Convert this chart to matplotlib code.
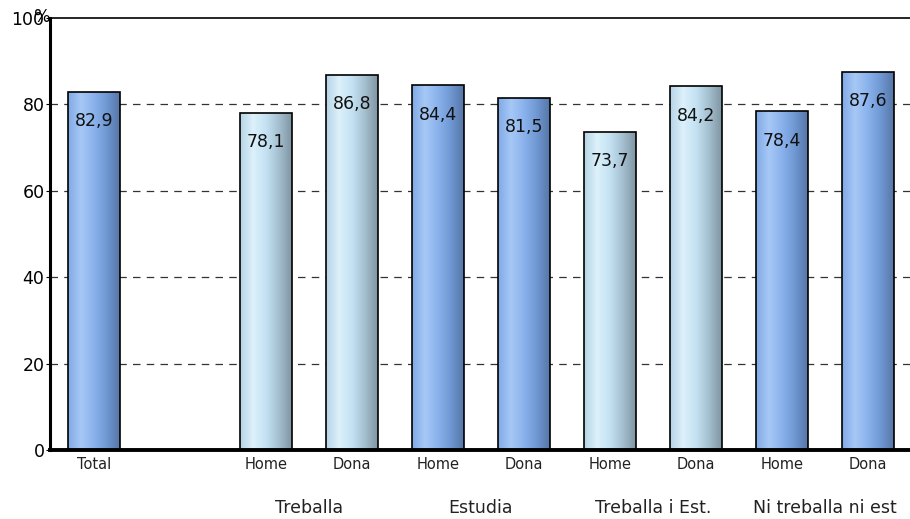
import matplotlib.pyplot as plt
import numpy as np
from matplotlib.colors import LinearSegmentedColormap

# slot 1 is left empty in the original chart
positions = [0, 2, 3, 4, 5, 6, 7, 8, 9]
values = [82.9, 78.1, 86.8, 84.4, 81.5, 73.7, 84.2, 78.4, 87.6]
tick_labels = ['Total', 'Home', 'Dona', 'Home', 'Dona', 'Home', 'Dona', 'Home', 'Dona']
styles = ['blue', 'light', 'light', 'blue', 'blue', 'light', 'light', 'blue', 'blue']
groups = ['Treballa', 'Estudia', 'Treballa i Est.', 'Ni treballa ni est']
group_centers = [2.5, 4.5, 6.5, 8.5]

cmaps = {
    'blue': LinearSegmentedColormap.from_list('b', ['#7fa9e6', '#a6c8f6', '#8ab2ec', '#6f97d2', '#5676a6']),
    'light': LinearSegmentedColormap.from_list('l', ['#b6d3e4', '#dcf1fb', '#c4e2f3', '#a4bfcf', '#7f95a2']),
}


def gradient_bar(ax, x, h, width, style):
    bar = ax.bar(x, h, width=width, color='none', edgecolor='black', linewidth=1.2, zorder=3)[0]
    grad = np.linspace(0, 1, 256).reshape(1, -1)
    im = ax.imshow(grad, cmap=cmaps[style], aspect='auto',
                   extent=(x - width / 2, x + width / 2, 0, h), zorder=2)
    im.set_clip_path(bar)


fig = plt.figure(figsize=(9.1, 5.19), dpi=100)
ax = fig.add_axes([50 / 910, 69 / 519, 860 / 910, 432 / 519])

for x, v, s in zip(positions, values, styles):
    gradient_bar(ax, x, v, 0.6, s)
    ax.text(x, v - 6.8, f'{v:.1f}'.replace('.', ','), ha='center', va='center',
            fontsize=12.5, color='#111111', zorder=4)

ax.set_xlim(-0.51, 9.49)
ax.set_ylim(0, 100)
ax.set_yticks([0, 20, 40, 60, 80, 100])
ax.set_yticklabels(['0', '20', '40', '60', '80', '100'], fontsize=12.5)
ax.set_xticks(positions)
ax.set_xticklabels(tick_labels, fontsize=10.5, color='#222222')
ax.tick_params(axis='x', length=0, pad=5)
ax.tick_params(axis='y', length=3, pad=1)

for y in [20, 40, 60, 80]:
    ax.axhline(y, color='#333333', linestyle=(0, (6, 5)), linewidth=0.9, zorder=1)

ax.spines['right'].set_visible(False)
ax.spines['left'].set_linewidth(2.2)
ax.spines['bottom'].set_linewidth(2.8)
ax.spines['top'].set_linewidth(1.2)

for c, g in zip(group_centers, groups):
    ax.text(c, -13.5, g, ha='center', va='center', fontsize=12.5, color='#222222')

fig.text(42 / 910, 1 - 17 / 519, '%', ha='center', va='center', fontsize=12.5)

fig.savefig('out.png', dpi=100)
